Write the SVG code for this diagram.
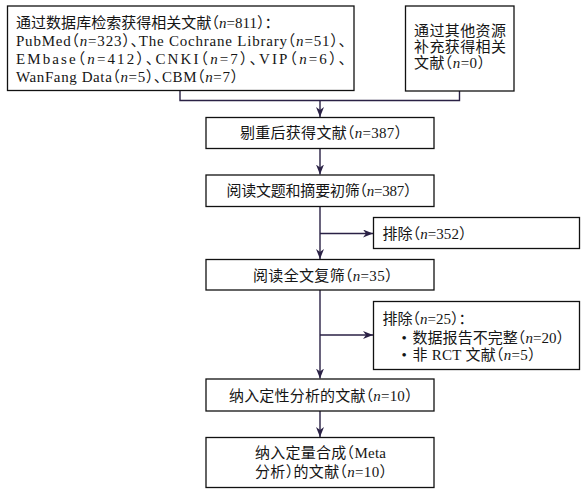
<svg xmlns="http://www.w3.org/2000/svg" width="588" height="493" viewBox="0 0 588 493">
<style>
.box{fill:#fff;stroke:#111;stroke-width:1.3}
.t{font-family:"Liberation Serif","Noto Sans CJK SC",serif;font-size:15px;fill:#151515;font-feature-settings:"halt" 1;}
.i{font-style:italic}
.c{fill:none;stroke:#2a2145;stroke-width:1.4}
</style>
<defs>
<marker id="ah" markerUnits="userSpaceOnUse" markerWidth="10" markerHeight="8" refX="10" refY="4" orient="auto" viewBox="0 0 10 8">
<path d="M0,0 L10,4 L0,8 L3,4 Z" fill="#2a2145"/>
</marker>
</defs>
<rect width="588" height="493" fill="#fff"/>
<g id="connectors">
<path class="c" d="M180,90.5 V100.5 M459.5,91 V100.5 M179.3,100.5 H460.2"/>
<path class="c" d="M320,100.5 V117" marker-end="url(#ah)"/>
<path class="c" d="M320,148.5 V174.5" marker-end="url(#ah)"/>
<path class="c" d="M320,206.5 V259" marker-end="url(#ah)"/>
<path class="c" d="M320,233.5 H373" marker-end="url(#ah)"/>
<path class="c" d="M320,290 V378.5" marker-end="url(#ah)"/>
<path class="c" d="M320,335 H373" marker-end="url(#ah)"/>
<path class="c" d="M320,411 V437" marker-end="url(#ah)"/>
</g>
<g id="n1">
<rect class="box" x="7.5" y="6" width="346.5" height="84.5"/>
<text class="t" x="16" y="27.5" textLength="256" lengthAdjust="spacing">通过数据库检索获得相关文献（<tspan class="i">n</tspan>=811）：</text>
<text class="t" x="16" y="45.5" textLength="330" lengthAdjust="spacing">PubMed（<tspan class="i">n</tspan>=323）、The Cochrane Library（<tspan class="i">n</tspan>=51）、</text>
<text class="t" x="16" y="63.5" textLength="330" lengthAdjust="spacing">EMbase（<tspan class="i">n</tspan>=412）、CNKI（<tspan class="i">n</tspan>=7）、VIP（<tspan class="i">n</tspan>=6）、</text>
<text class="t" x="16" y="81.5" textLength="222" lengthAdjust="spacing">WanFang Data（<tspan class="i">n</tspan>=5）、CBM（<tspan class="i">n</tspan>=7）</text>
</g>
<g id="n2">
<rect class="box" x="405.5" y="6" width="108.5" height="85"/>
<text class="t" x="414" y="35.5" textLength="92" lengthAdjust="spacing">通过其他资源</text>
<text class="t" x="414" y="51.8" textLength="92" lengthAdjust="spacing">补充获得相关</text>
<text class="t" x="414" y="68" textLength="71" lengthAdjust="spacing">文献（<tspan class="i">n</tspan>=0）</text>
</g>
<g id="n3">
<rect class="box" x="206" y="117.5" width="228" height="31"/>
<text class="t" x="240" y="138" textLength="162" lengthAdjust="spacing">剔重后获得文献（<tspan class="i">n</tspan>=387）</text>
</g>
<g id="n4">
<rect class="box" x="206" y="175" width="228" height="31.5"/>
<text class="t" x="226.5" y="196" textLength="185" lengthAdjust="spacing">阅读文题和摘要初筛（<tspan class="i">n</tspan>=387）</text>
</g>
<g id="n5">
<rect class="box" x="373.5" y="217.5" width="206" height="31"/>
<text class="t" x="382.5" y="238.5" textLength="84" lengthAdjust="spacing">排除（<tspan class="i">n</tspan>=352）</text>
</g>
<g id="n6">
<rect class="box" x="206" y="259.5" width="228" height="30.5"/>
<text class="t" x="253" y="281" textLength="139.5" lengthAdjust="spacing">阅读全文复筛（<tspan class="i">n</tspan>=35）</text>
</g>
<g id="n7">
<rect class="box" x="373.5" y="301.5" width="206" height="68"/>
<text class="t" x="382.5" y="324" textLength="83.5" lengthAdjust="spacing">排除（<tspan class="i">n</tspan>=25）：</text>
<text class="t" x="401.5" y="342.5">•</text>
<text class="t" x="412.5" y="342.5" textLength="151.5" lengthAdjust="spacing">数据报告不完整（<tspan class="i">n</tspan>=20）</text>
<text class="t" x="401.5" y="359.5">•</text>
<text class="t" x="412.5" y="359.5" textLength="123" lengthAdjust="spacing">非 RCT 文献（<tspan class="i">n</tspan>=5）</text>
</g>
<g id="n8">
<rect class="box" x="206" y="379" width="228" height="32"/>
<text class="t" x="229" y="401" textLength="183.5" lengthAdjust="spacing">纳入定性分析的文献（<tspan class="i">n</tspan>=10）</text>
</g>
<g id="n9">
<rect class="box" x="206" y="437.5" width="228" height="50"/>
<text class="t" x="255" y="457.5" textLength="131" lengthAdjust="spacing">纳入定量合成（Meta</text>
<text class="t" x="255" y="476.5" textLength="132" lengthAdjust="spacing">分析）的文献（<tspan class="i">n</tspan>=10）</text>
</g>
</svg>
